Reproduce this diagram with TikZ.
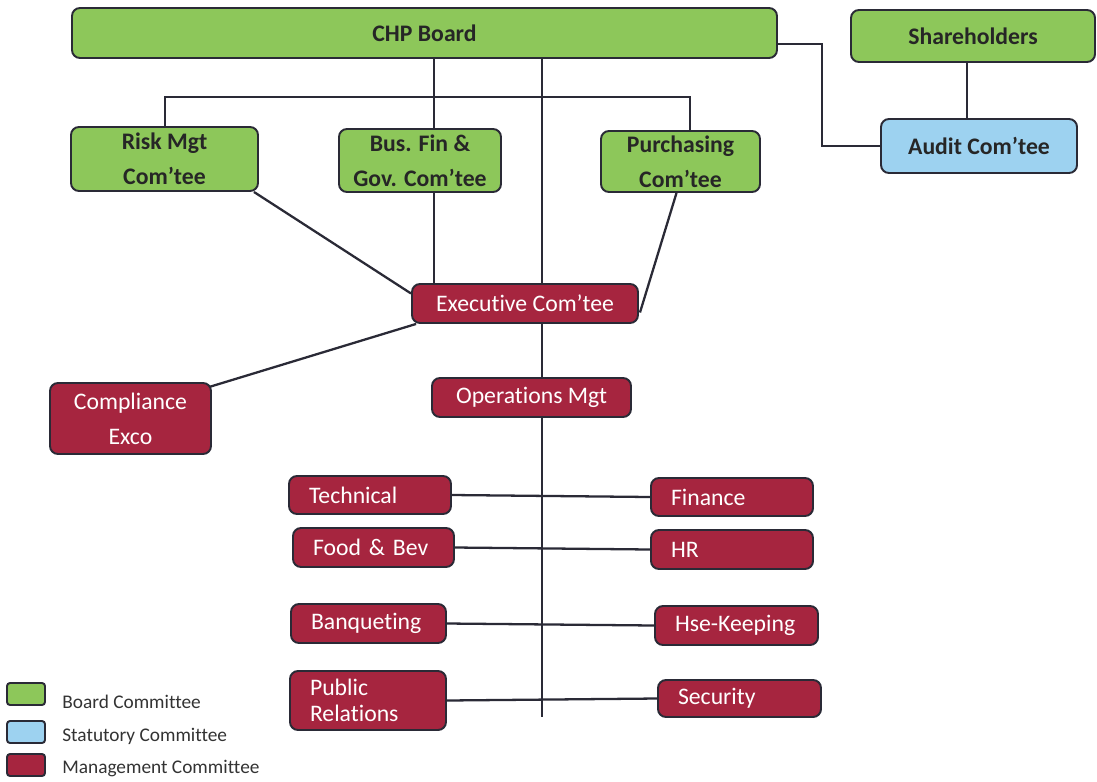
\documentclass[tikz,border=0pt]{standalone}
\usepackage{fontspec}
\setmainfont[RawFeature=-liga, RawFeature=-clig, RawFeature=-calt]{Carlito}
\usetikzlibrary{calc}
\pgfdeclarelayer{bg}
\pgfsetlayers{bg,main}
\definecolor{gfill}{HTML}{8DC75A}
\definecolor{bfill}{HTML}{9DD2F0}
\definecolor{rfill}{HTML}{A6253F}
\definecolor{edge}{HTML}{2A2A36}
\begin{document}
\begin{tikzpicture}[x=0.02cm,y=-0.02cm,
 box/.style={draw=edge, line width=1.1pt, rounded corners=0.16cm, inner sep=0pt, font=\fontsize{13.5}{20}\selectfont},
 gbox/.style={box, fill=gfill, text=black!85, font=\bfseries\fontsize{13.5}{20}\selectfont, align=center},
 bbox/.style={box, fill=bfill, text=black!85, font=\bfseries\fontsize{13.5}{20}\selectfont},
 rbox/.style={box, fill=rfill, text=white, align=center},
 lbox/.style={box, fill=rfill, text=white, align=left, inner xsep=0.4cm},
 sz/.style 2 args={minimum width=#1*0.02cm, minimum height=#2*0.02cm},
 link/.style={draw=edge, line width=1.3pt},
 legsq/.style={draw=edge, line width=1.1pt, rounded corners=0.06cm, minimum width=0.76cm, minimum height=0.44cm, inner sep=0pt},
 leg/.style={font=\fontsize{11}{13}\selectfont, text=black!80, anchor=west, inner sep=0pt}]
\useasboundingbox (0,0) rectangle (1097,781);

% board level
\node[gbox, sz={705}{50}] (chp) at (424.5,33) {CHP Board};
\node[gbox, sz={244}{52}] (share) at (973,36) {Shareholders};
\node[bbox, sz={196}{54}] (audit) at (979,146) {Audit Com'tee};
\node[gbox, sz={187}{64}] (risk) at (164.5,159) {Risk Mgt\\Com'tee};
\node[gbox, sz={162}{63}] (bus) at (420,160.5) {Bus. Fin \&\\Gov. Com'tee};
\node[gbox, sz={159}{61}] (purch) at (680.5,161.5) {Purchasing\\Com'tee};

% management
\node[rbox, sz={226}{39}] (exec) at (525,303.5) {Executive Com'tee};
\node[rbox, sz={199}{39}] (ops) at (531.5,397.5) {Operations Mgt};
\node[rbox, sz={161}{71}] (comp) at (130.5,418.5) {Compliance\\Exco};

\node[lbox, sz={162}{38}, text width=2.44cm] (tech) at (370,495) {Technical};
\node[lbox, sz={162}{38}, text width=2.44cm] (fin) at (732,497) {Finance};
\node[lbox, sz={161}{39}, text width=2.42cm] (food) at (373.5,547.5) {Food \& Bev};
\node[lbox, sz={162}{39}, text width=2.44cm] (hr) at (732,549.5) {HR};
\node[lbox, sz={155}{39}, text width=2.30cm] (banq) at (368.5,623.5) {Banqueting};
\node[lbox, sz={163}{39}, text width=2.46cm] (hse) at (736.5,625.5) {Hse-Keeping};
\node[lbox, sz={156}{59}, text width=2.32cm, font=\fontsize{13.5}{14.5}\selectfont] (pr) at (368,700.5) {Public\\Relations};
\node[lbox, sz={163}{37}, text width=2.46cm] (sec) at (739.5,698.5) {Security};

% helper coordinates
\coordinate (bl) at (165,97);
\coordinate (br) at (690,97);
\coordinate (v1) at (434,97);
\coordinate (m) at (542,717);
\coordinate (a1) at (822,44);
\coordinate (s1) at (967,100);

\begin{pgfonlayer}{bg}
\draw[link] (m |- chp.south) -- (m);
\draw[link] (bl |- risk.north) -- (bl) -- (br) -- (br |- purch.north);
\draw[link] (v1 |- chp.south) -- (v1 |- bus.north);
\draw[link] (v1 |- bus.south) -- (v1 |- exec.north);
\draw[link] ($(risk.south east)+(-5,0)$) -- ($(exec.west)+(0,-10)$);
\draw[link] ($(purch.south)+(-4,0)$) -- ($(exec.east)+(1,9)$);
\draw[link] ($(exec.south west)+(5,0)$) -- ($(comp.north east)+(-3,5)$);
\draw[link] (chp.east |- a1) -- (a1) -- (a1 |- audit.west) -- (audit.west);
\draw[link] (s1 |- share.south) -- (s1 |- audit.north);
\draw[link] (tech.east) -- (fin.west);
\draw[link] (food.east) -- (hr.west);
\draw[link] (banq.east) -- (hse.west);
\draw[link] (pr.east) -- (sec.west);
\end{pgfonlayer}

% legend
\node[legsq, fill=gfill] (lg) at (26,694) {};
\node[legsq, fill=bfill] (lb) at (26,732) {};
\node[legsq, fill=rfill] (lr) at (26,765) {};
\node[leg] (lgt) at (62,702) {Board Committee};
\node[leg] (lbt) at (62,736) {Statutory Committee};
\node[leg] (lrt) at (62,768) {Management Committee};
\end{tikzpicture}
\end{document}
